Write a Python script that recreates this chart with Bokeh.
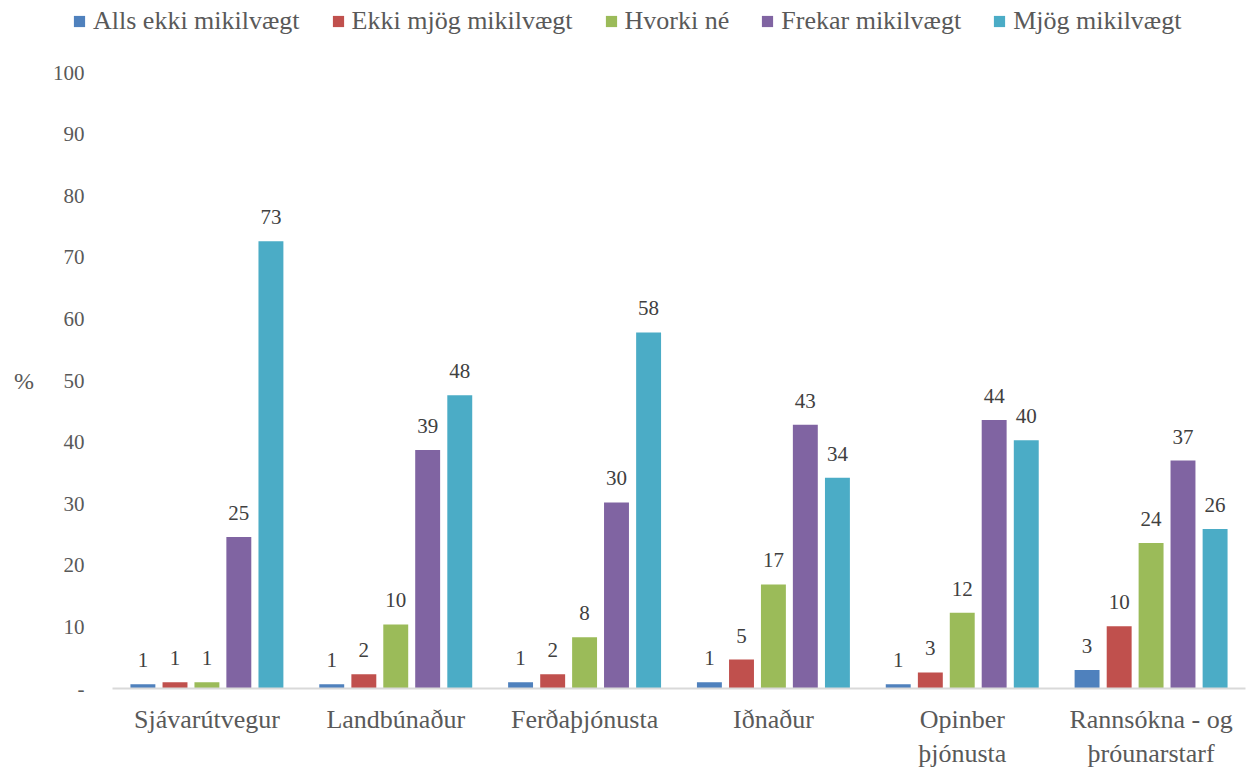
from bokeh.plotting import figure
from bokeh.models import ColumnDataSource, FactorRange, Range1d, FixedTicker, Legend, LegendItem
from bokeh.layouts import column
from bokeh.transform import dodge
from bokeh.embed import file_html
from bokeh.resources import INLINE
from bokeh.core.properties import value

categories = ["Sjávarútvegur", "Landbúnaður", "Ferðaþjónusta", "Iðnaður",
              "Opinber\nþjónusta", "Rannsókna - og\nþróunarstarf"]
series = ["Alls ekki mikilvægt", "Ekki mjög mikilvægt", "Hvorki né",
          "Frekar mikilvægt", "Mjög mikilvægt"]
alls_ekki = [0.7, 0.7, 1.0, 1.0, 0.7, 3.0]
ekki_mjog = [1.0, 2.3, 2.3, 4.7, 2.6, 10.1]
hvorki = [1.0, 10.4, 8.3, 16.9, 12.3, 23.6]
frekar = [24.6, 38.7, 30.2, 42.8, 43.6, 37.0]
mjog = [72.6, 47.6, 57.8, 34.2, 40.3, 25.9]
y_ticks = [0, 10, 20, 30, 40, 50, 60, 70, 80, 90, 100]

colors = ["#4F81BD", "#C0504D", "#9BBB59", "#8064A2", "#4BACC6"]
FONT = "Liberation Serif"
all_series = [alls_ekki, ekki_mjog, hvorki, frekar, mjog]
keys = ["s0", "s1", "s2", "s3", "s4"]

data = {"cat": categories}
for k, vals in zip(keys, all_series):
    data[k] = vals
    data[k + "_lbl"] = [f"{v:.0f}" for v in vals]
src = ColumnDataSource(data)

# ---- legend strip (legend-only proxies with NaN coordinates: nothing drawn) ----
nan = float("nan")
lg = figure(width=1256, height=54, x_range=Range1d(0, 1), y_range=Range1d(0, 1),
            output_backend="svg", toolbar_location=None,
            x_axis_type=None, y_axis_type=None,
            min_border_left=0, min_border_right=0, min_border_top=0, min_border_bottom=0)
lg.frame_align = False
lg.outline_line_color = None
lg.xgrid.visible = False
lg.ygrid.visible = False
items = []
for name, c in zip(series, colors):
    r = lg.vbar(x=[nan], top=[nan], width=0.1, fill_color=c, line_color=None)
    items.append(LegendItem(label=name, renderers=[r]))
legend = Legend(items=items, orientation="horizontal", location=(72, 18),
                border_line_color=None, background_fill_alpha=0,
                glyph_width=14, glyph_height=14, label_standoff=7, spacing=31,
                padding=0, margin=0, label_text_font=FONT,
                label_text_font_size="26px", label_text_color="#595959")
lg.add_layout(legend)

# ---- main chart ----
p = figure(width=1256, height=717, x_range=FactorRange(*categories),
           y_range=Range1d(0, 100), output_backend="svg", toolbar_location=None,
           min_border_left=112, min_border_right=11, min_border_top=18, min_border_bottom=81)
p.frame_align = False
p.outline_line_color = None
p.xgrid.visible = False
p.ygrid.visible = False

offsets = [-0.339, -0.169, 0.0, 0.169, 0.339]
for k, c, off in zip(keys, colors, offsets):
    p.vbar(x=dodge("cat", off, range=p.x_range), top=k, width=0.132,
           source=src, fill_color=c, line_color=None)
    p.text(x=dodge("cat", off, range=p.x_range), y=k, text=k + "_lbl", source=src,
           text_align="center", text_baseline="alphabetic", y_offset=-24,
           text_font=value(FONT), text_font_size="21px", text_color="#404040")

p.yaxis.ticker = FixedTicker(ticks=y_ticks)
p.yaxis.major_label_overrides = {0: "-"}
p.yaxis.axis_line_color = None
p.yaxis.major_tick_line_color = None
p.yaxis.major_tick_out = 0
p.yaxis.major_tick_in = 0
p.yaxis.minor_tick_line_color = None
p.yaxis.major_label_standoff = 28
p.yaxis.major_label_text_font = FONT
p.yaxis.major_label_text_font_size = "21px"
p.yaxis.major_label_text_color = "#595959"
p.yaxis.axis_label = "%"
p.yaxis.axis_label_orientation = "horizontal"
p.yaxis.axis_label_standoff = 16
p.yaxis.axis_label_text_font = FONT
p.yaxis.axis_label_text_font_style = "normal"
p.yaxis.axis_label_text_font_size = "24px"
p.yaxis.axis_label_text_color = "#595959"

p.xaxis.axis_line_color = "#D9D9D9"
p.xaxis.axis_line_width = 2
p.xaxis.major_tick_line_color = None
p.xaxis.major_tick_out = 0
p.xaxis.major_tick_in = 0
p.xaxis.minor_tick_line_color = None
p.xaxis.major_label_standoff = 16
p.xaxis.major_label_text_font = FONT
p.xaxis.major_label_text_font_size = "26px"
p.xaxis.major_label_text_color = "#595959"

layout = column(lg, p, spacing=0)
open("out.html", "w").write(file_html(layout, INLINE))
